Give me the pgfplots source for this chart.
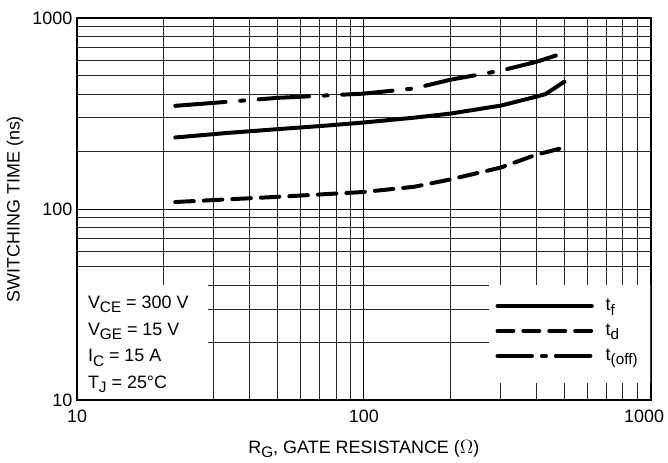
\documentclass[border=0pt]{standalone}
\usepackage{fontspec}
\setmainfont{Liberation Sans}
\usepackage{pgfplots}
\pgfplotsset{compat=1.18}

% lowered subscript, close to the datasheet look
\newcommand{\sub}[1]{\raisebox{-0.45ex}{\fontsize{11.5}{11.5}\selectfont #1}}

\begin{document}
\begin{tikzpicture}
\begin{loglogaxis}[
  name=ax,
  width=432pt, height=288pt, scale only axis,
  xmin=10, xmax=1000, ymin=10, ymax=1000,
  xtick={10,100,1000}, xticklabels={10,100,{\hspace*{-10pt}1000}},
  ytick={10,100,1000}, yticklabels={10,100,1000},
  grid=both,
  major grid style={black, line width=0.75pt},
  minor grid style={black!85, line width=0.75pt},
  tick style={draw=none},
  axis line style={line width=1.6pt},
  font=\fontsize{13.5}{15}\selectfont,
  tick label style={font=\fontsize{13.5}{15}\selectfont},
  xticklabel style={yshift=-4pt},
  xlabel={R\sub{G}, GATE RESISTANCE (\ensuremath{\Omega})},
  xlabel style={yshift=-6pt},
  ylabel={SWITCHING TIME (ns)},
  legend cell align=left,
  legend image code/.code={\draw[#1] (0pt,0pt) -- (71pt,0pt); \path (78pt,0pt);},
  legend style={draw=none, fill=none, at={(0.722,0.279)}, anchor=north west,
    row sep=4.5pt, font=\fontsize{13.5}{15}\selectfont},
]
% white boxes for the condition text and the legend
\fill[white] (axis cs:10,10) rectangle (axis cs:28.5,40);
\fill[white] (axis cs:272,12.4) rectangle (axis cs:1000,40);

\addplot[black, line width=3pt, line join=round, line cap=round] coordinates {
  (22,237) (33,250) (50,262) (75,274) (100,284) (150,301) (200,316)
  (300,348) (400,388) (430,400) (500,464)
};
\addlegendentry{t\sub{f}}
\addplot[black, line width=3pt, line cap=round, dash pattern=on 14pt off 7.5pt,
  legend image post style={dash pattern=on 12pt off 7.5pt}] coordinates {
  (22,109) (50,116) (100,123) (150,131) (200,143) (300,165) (400,193) (500,210)
};
\addlegendentry{t\sub{d}}
\addplot[black, line width=3pt, line cap=round,
  dash pattern=on 38pt off 11pt on 3pt off 11pt,
  legend image post style={dash pattern=on 26pt off 7.5pt on 3pt off 7.5pt}] coordinates {
  (22,347) (50,382) (100,402) (150,428) (200,475) (300,530) (400,590) (500,657)
};
\addlegendentry{t\sub{(off)}}

\node[anchor=north west, align=left, inner sep=0pt,
  font=\fontsize{13.5}{20}\selectfont] at (axis cs:10.9,35.2)
  {V\sub{CE} = 300 V\\V\sub{GE} = 15 V\\I\sub{C} = 15 A\\T\sub{J} = 25°C};

\draw[line width=1.6pt] (rel axis cs:0,0) rectangle (rel axis cs:1,1);
\end{loglogaxis}
% page size as in the reference
\pgfresetboundingbox
\path ([xshift=-58pt,yshift=-47pt]ax.south west) rectangle ([xshift=13pt,yshift=13.5pt]ax.north east);
\end{tikzpicture}
\end{document}
